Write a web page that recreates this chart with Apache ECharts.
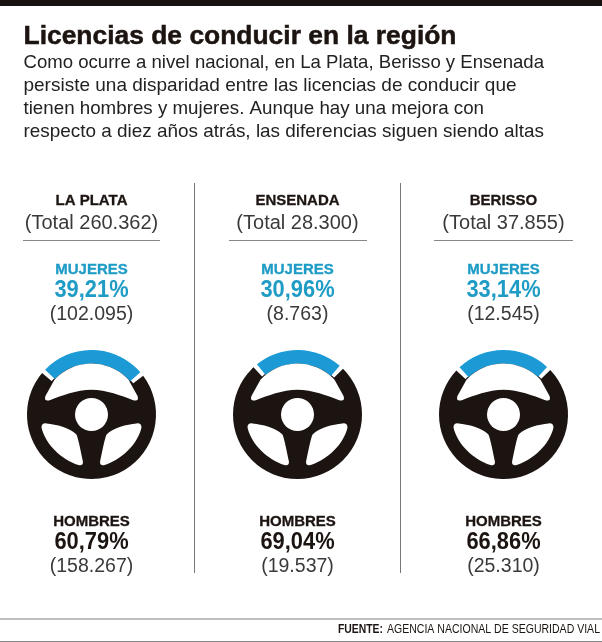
<!DOCTYPE html>
<html>
<head>
<meta charset="utf-8" />
<title>Licencias de conducir</title>
<style type="text/css">
html,body{margin:0;padding:0;background:#fff}
#chart{width:602px;height:642px}
</style>
<script src="https://cdn.jsdelivr.net/npm/echarts@6/dist/echarts.min.js"></script>
</head>
<body>
<div id="chart"></div>
<script type="text/javascript">
var titleText = 'Licencias de conducir en la región';
var bodyLines = [
	'Como ocurre a nivel nacional, en La Plata, Berisso y Ensenada',
	'persiste una disparidad entre las licencias de conducir que',
	'tienen hombres y mujeres. Aunque hay una mejora con',
	'respecto a diez años atrás, las diferencias siguen siendo altas'
];
var cities = ['LA PLATA', 'ENSENADA', 'BERISSO'];
var totals = [260362, 28300, 37855];
var mujeresPct = [39.21, 30.96, 33.14];
var mujeresCount = [102095, 8763, 12545];
var hombresPct = [60.79, 69.04, 66.86];
var hombresCount = [158267, 19537, 25310];
// the blue arc is not to scale with the percentage: degrees, each side of 12 o'clock
var arcLeft = [46, 39, 43];
var arcRight = [51, 43, 44.5];

var BLACK = '#1c1411', BLUE = '#1b9ad6', BLUETXT = '#1f9cc6', GREY = '#3a3a3a';
var SANS = "'Liberation Sans'";
var colX = [91.5, 297.5, 503.5];
var wheelY = 414.5;
var ruleX = [[23, 160], [229, 367], [434, 573]];
var bodyW = [520.5, 493, 460.5, 520.5];
var PAD = 4;

// white cut-outs of the wheel, centred on 0,0, with their bounding boxes
var holes = [
	{d: 'M-37,-35 A51,51 0 0 1 37,-35 L46,-19 Q48,-13 41,-15 C30,-19 15,-25 0,-25 C-15,-25 -30,-19 -41,-15 Q-48,-13 -46,-19 Z', x: -46.5, y: -51, w: 93, h: 37},
	{d: 'M-50,13 C-50,10 -48,8.5 -45,9 C-35,10 -22,13 -15,20 C-13,24 -10,40 -8.5,47 C-8,50 -10,51.5 -13,50.5 C-30,45 -46,30 -50,13 Z', x: -50, y: 8.8, w: 41.5, h: 42},
	{d: 'M50,13 C50,10 48,8.5 45,9 C35,10 22,13 15,20 C13,24 10,40 8.5,47 C8,50 10,51.5 13,50.5 C30,45 46,30 50,13 Z', x: 8.5, y: 8.8, w: 41.5, h: 42}
];

var ctx = document.createElement('canvas').getContext('2d');
function fit(str, font, w){
	ctx.font = font;
	return w / ctx.measureText(str).width;
}
function pct(v){
	return v.toFixed(2).replace('.', ',') + '%';
}
function miles(v){
	return String(v).replace(/\B(?=(\d{3})+$)/g, '.');
}
function txt(str, x, y, font, color, align, sx, heavy){
	return {
		type: 'text', z: 10, silent: true, x: x, y: y, scaleX: sx || 1,
		style: {
			text: str, font: font, fill: color, align: align || 'center', verticalAlign: 'middle',
			stroke: heavy ? color : null, lineWidth: heavy || 0
		}
	};
}
function line(x1, y1, x2, y2, color, w){
	return {
		type: 'line', z: 10, silent: true,
		shape: {x1: x1, y1: y1, x2: x2, y2: y2},
		style: {stroke: color, lineWidth: w}
	};
}

var series = [], graphic = [];
graphic.push({type: 'rect', z: 10, silent: true, shape: {x: 0, y: 0, width: 602, height: 6}, style: {fill: '#17120f'}});
var titleFont = "bold 26.5px " + SANS;
graphic.push(txt(titleText, 23.5, 36.5, titleFont, BLACK, 'left', fit(titleText, titleFont, 433), 0.5));
bodyLines.forEach(function(s, i){
	var f = "18.5px " + SANS;
	graphic.push(txt(s, 23.5, 63 + i * 23, f, '#222', 'left', fit(s, f, bodyW[i])));
});
graphic.push(line(194.5, 183, 194.5, 573, '#777', 1));
graphic.push(line(400.5, 183, 400.5, 573, '#777', 1));
graphic.push(line(0, 619, 602, 619, '#aaa', 1.5));
graphic.push(line(0, 641.5, 602, 641.5, '#888', 1));

cities.forEach(function(c, i){
	var x = colX[i];
	graphic.push(txt(c, x, 201, "bold 15px " + SANS, BLACK, 'center', 1, 0.3));
	graphic.push(txt('(Total ' + miles(totals[i]) + ')', x, 223, "20px " + SANS, GREY));
	graphic.push(line(ruleX[i][0], 240.5, ruleX[i][1], 240.5, '#888', 1));
	graphic.push(txt('MUJERES', x, 270, "bold 15px " + SANS, BLUETXT, 'center', 1, 0.3));
	graphic.push(txt(pct(mujeresPct[i]), x, 291, "bold 23px " + SANS, BLUETXT, 'center', 0.95));
	graphic.push(txt('(' + miles(mujeresCount[i]) + ')', x, 314.5, "19.5px " + SANS, GREY));
	graphic.push(txt('HOMBRES', x, 522, "bold 15px " + SANS, BLACK, 'center', 1, 0.3));
	graphic.push(txt(pct(hombresPct[i]), x, 543, "bold 23px " + SANS, BLACK, 'center', 0.95));
	graphic.push(txt('(' + miles(hombresCount[i]) + ')', x, 567, "19.5px " + SANS, GREY));

	var sweep = arcLeft[i] + arcRight[i];
	series.push({
		type: 'pie', silent: true, z: 2, center: [x, wheelY], radius: [51, 64.5],
		startAngle: 90 + arcLeft[i] + PAD / 2, padAngle: PAD, clockwise: true,
		label: {show: false}, labelLine: {show: false},
		data: [
			{value: sweep, name: 'Mujeres', itemStyle: {color: BLUE}},
			{value: 360 - 2 * PAD - sweep, name: 'Hombres', itemStyle: {color: BLACK}}
		]
	});
	series.push({
		type: 'pie', silent: true, z: 1, center: [x, wheelY], radius: [0, 52],
		label: {show: false}, labelLine: {show: false},
		data: [{value: 1, itemStyle: {color: BLACK}}]
	});
});

// holes of the wheel, one data row per wheel
series.push({
	type: 'custom', coordinateSystem: 'none', silent: true, z: 5,
	data: cities.map(function(c, i){ return [i]; }),
	renderItem: function(params){
		var x = colX[params.dataIndex];
		var kids = holes.map(function(h){
			return {
				type: 'path',
				shape: {pathData: h.d, layout: 'cover', x: x + h.x, y: wheelY + h.y, width: h.w, height: h.h},
				style: {fill: '#fff'}
			};
		});
		kids.push({type: 'circle', shape: {cx: x, cy: wheelY, r: 16.5}, style: {fill: '#fff'}});
		return {type: 'group', children: kids};
	}
});

var fuenteFont = "bold 12px " + SANS, agenciaFont = "12px " + SANS, agencia = 'AGENCIA NACIONAL DE SEGURIDAD VIAL';
graphic.push(txt('FUENTE:', 338, 629.5, fuenteFont, BLACK, 'left', fit('FUENTE:', fuenteFont, 45)));
graphic.push(txt(agencia, 600, 629.5, agenciaFont, BLACK, 'right', fit(agencia, agenciaFont, 213)));

var chart = echarts.init(document.getElementById('chart'));
chart.setOption({
	animation: false,
	backgroundColor: '#fff',
	series: series,
	graphic: {elements: graphic}
});
</script>
</body>
</html>
